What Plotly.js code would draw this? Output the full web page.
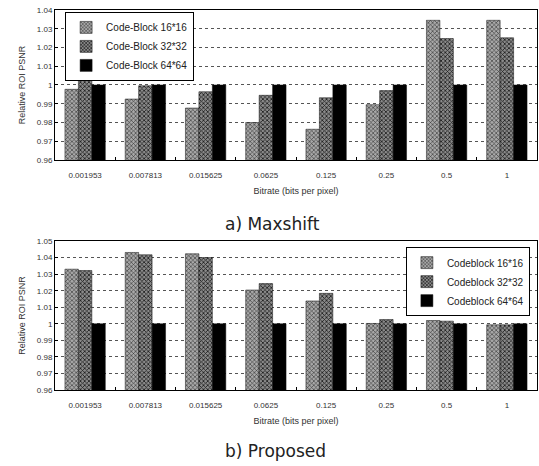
<!DOCTYPE html>
<html>
<head>
<meta charset="utf-8">
<script src="https://cdn.plot.ly/plotly-3.0.1.min.js"></script>
<style>html,body{margin:0;padding:0;background:#fff;}#chart{width:539px;height:466px;}</style>
</head>
<body>
<div id="chart"></div>
<script>
const categories = ["0.001953", "0.007813", "0.015625", "0.0625", "0.125", "0.25", "0.5", "1"];

const maxshift16 = [0.9977, 0.9925, 0.9877, 0.9800, 0.9764, 0.9895, 1.0345, 1.0345];
const maxshift32 = [1.0084, 0.9996, 0.9964, 0.9945, 0.9932, 0.9970, 1.0248, 1.0252];
const maxshift64 = [1.0, 1.0, 1.0, 1.0, 1.0, 1.0, 1.0, 1.0];

const proposed16 = [1.0330, 1.0431, 1.0423, 1.0204, 1.0138, 1.0002, 1.0020, 0.9994];
const proposed32 = [1.0322, 1.0417, 1.0400, 1.0243, 1.0184, 1.0026, 1.0016, 0.9994];
const proposed64 = [1.0, 1.0, 1.0, 1.0, 1.0, 1.0, 1.0, 1.0];

const namesTop = ["Code-Block 16*16", "Code-Block 32*32", "Code-Block 64*64"];
const namesBottom = ["Codeblock 16*16", "Codeblock 32*32", "Codeblock 64*64"];

const yTickValsTop = [0.96, 0.97, 0.98, 0.99, 1.0, 1.01, 1.02, 1.03, 1.04];
const yTickTextTop = ["0.96", "0.97", "0.98", "0.99", "1", "1.01", "1.02", "1.03", "1.04"];
const yTickValsBottom = [0.96, 0.97, 0.98, 0.99, 1.0, 1.01, 1.02, 1.03, 1.04, 1.05];
const yTickTextBottom = ["0.96", "0.97", "0.98", "0.99", "1", "1.01", "1.02", "1.03", "1.04", "1.05"];

const subtitleTop = "a) Maxshift";
const subtitleBottom = "b) Proposed";
const xTitle = "Bitrate (bits per pixel)";
const yTitle = "Relative ROI PSNR";

const styles = [
  {color: "#9a9a9a", pattern: {shape: "x", fgcolor: "#303030", bgcolor: "#a8a8a8", size: 3, solidity: 0.35}},
  {color: "#7a7a7a", pattern: {shape: "x", fgcolor: "#1a1a1a", bgcolor: "#8a8a8a", size: 3, solidity: 0.45}},
  {color: "#000000"}
];

function mk(y, name, i, xa, ya, leg) {
  const m = {color: styles[i].color, line: {color: "#111", width: 0.5}};
  if (styles[i].pattern) m.pattern = styles[i].pattern;
  return {type: "bar", x: categories, y: y, name: name, xaxis: xa, yaxis: ya, legend: leg, marker: m};
}

const data = [
  mk(maxshift16, namesTop[0], 0, "x", "y", "legend"),
  mk(maxshift32, namesTop[1], 1, "x", "y", "legend"),
  mk(maxshift64, namesTop[2], 2, "x", "y", "legend"),
  mk(proposed16, namesBottom[0], 0, "x2", "y2", "legend2"),
  mk(proposed32, namesBottom[1], 1, "x2", "y2", "legend2"),
  mk(proposed64, namesBottom[2], 2, "x2", "y2", "legend2")
];

const tickFont = {family: "Liberation Sans, Arial, sans-serif", size: 8, color: "#333"};
const titleFont = {family: "Liberation Sans, Arial, sans-serif", size: 9, color: "#333"};

function xax(anchor) {
  return {
    anchor: anchor, type: "category", domain: [0, 1],
    showline: true, linecolor: "#000", linewidth: 1, mirror: true,
    ticks: "inside", ticklen: 3, tickcolor: "#000", tickson: "boundaries",
    tickfont: tickFont, showgrid: false, ticklabelstandoff: 7,
    title: {text: xTitle, font: titleFont, standoff: 9}
  };
}
function yax(anchor, dom, range, tv, tt) {
  return {
    anchor: anchor, domain: dom, range: range,
    tickvals: tv, ticktext: tt, tickfont: tickFont,
    showline: true, linecolor: "#000", linewidth: 1, mirror: true,
    ticks: "inside", ticklen: 3, tickcolor: "#000",
    showgrid: true, gridcolor: "#555", griddash: "dot", gridwidth: 1,
    zeroline: false,
    title: {text: yTitle, font: titleFont, standoff: 9}
  };
}

const layout = {
  width: 539, height: 466,
  margin: {l: 55, r: 2, t: 10, b: 76},
  paper_bgcolor: "#fff", plot_bgcolor: "#fff",
  barmode: "group", bargap: 0.33, bargroupgap: 0,
  xaxis: xax("y"),
  yaxis: yax("x", [0.6053, 1], [0.96, 1.04], yTickValsTop, yTickTextTop),
  xaxis2: xax("y2"),
  yaxis2: yax("x2", [0, 0.392], [0.96, 1.05], yTickValsBottom, yTickTextBottom),
  legend: {
    x: 0.021, y: 0.995, xanchor: "left", yanchor: "top",
    bgcolor: "#fff", bordercolor: "#000", borderwidth: 1,
    font: {family: "Liberation Sans, Arial, sans-serif", size: 10, color: "#222"},
    tracegroupgap: 0, itemwidth: 30
  },
  legend2: {
    x: 0.728, y: 0.376, xanchor: "left", yanchor: "top",
    bgcolor: "#fff", bordercolor: "#000", borderwidth: 1,
    font: {family: "Liberation Sans, Arial, sans-serif", size: 10, color: "#222"},
    tracegroupgap: 0, itemwidth: 30
  },
  showlegend: true,
  annotations: [
    {text: subtitleTop, xref: "paper", yref: "paper", x: 0.452, y: 0.438, xanchor: "center", yanchor: "middle",
     showarrow: false, font: {family: "DejaVu Sans, sans-serif", size: 17, color: "#222"}},
    {text: subtitleBottom, xref: "paper", yref: "paper", x: 0.457, y: -0.16, xanchor: "center", yanchor: "middle",
     showarrow: false, font: {family: "DejaVu Sans, sans-serif", size: 17, color: "#222"}}
  ]
};

Plotly.newPlot("chart", data, layout, {displayModeBar: false, staticPlot: true});
</script>
</body>
</html>
